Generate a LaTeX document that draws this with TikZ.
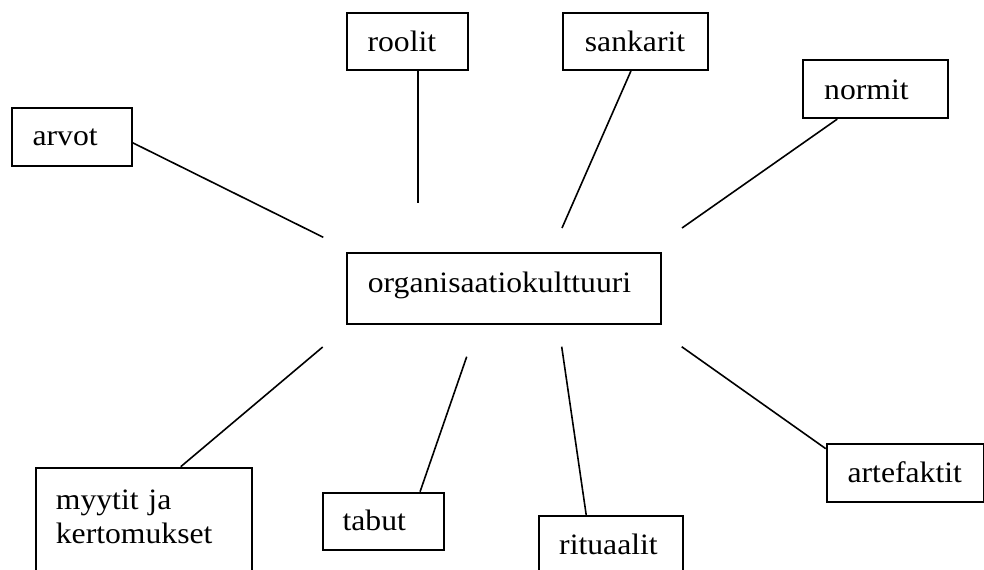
\documentclass[tikz,border=0pt]{standalone}
\usepackage{fontspec}
\setmainfont[FakeStretch=1.07]{Liberation Serif}
\usetikzlibrary{calc}
\tikzset{
  box/.style={draw, line width=0.9pt, anchor=north west, inner ysep=0pt, align=left,
    font=\fontsize{14.8}{17}\selectfont,
    execute at begin node={\hyphenpenalty=10000\relax}},
  conn/.style={line width=0.8pt}
}
\begin{document}
\begin{tikzpicture}[x=0.5pt,y=-0.5pt]
\useasboundingbox (0,0) rectangle (984,569);
\clip (0,0) rectangle (984,569);
\node[box, inner xsep=10.5pt, text width=39.15pt, text height=18.85pt, text depth=9.85pt] (arvot) at (10.7,107.3) {arvot};
\node[box, inner xsep=10.5pt, text width=39.5pt, text height=19.65pt, text depth=9pt] (roolit) at (345.7,11.7) {roolit};
\node[box, inner xsep=11pt, text width=50.5pt, text height=19.65pt, text depth=9pt] (sankarit) at (562,11.7) {sankarit};
\node[box, inner xsep=10.65pt, text width=51.2pt, text height=19.5pt, text depth=9.5pt] (normit) at (802,59.3) {normit};
\node[box, inner xsep=10.5pt, text width=136pt, text height=20.15pt, text depth=15.65pt] (org) at (346,251.7) {organisaatiokulttuuri};
\node[box, inner xsep=10pt, text width=87.85pt, text height=20.8pt, text depth=46.5pt] (myytit) at (35,466.7) {myytit ja\\kertomukset};
\node[box, inner xsep=9.7pt, text width=40.8pt, text height=18.8pt, text depth=10pt] (tabut) at (322.3,491.7) {tabut};
\node[box, inner xsep=10pt, text width=51.7pt, text height=19.5pt, text depth=22.65pt] (rituaalit) at (538.3,515) {rituaalit};
\node[box, inner xsep=10.5pt, text width=57.5pt, text height=19.2pt, text depth=9.5pt] (artefaktit) at (825.7,443.3) {artefaktit};

\coordinate (ac) at (323.3,237.3);
\coordinate (rc) at (418,203);
\coordinate (sc) at (562,228);
\coordinate (nc) at (682,228);
\coordinate (mc) at (322.7,347);
\coordinate (tc) at (466.7,356.7);
\coordinate (ric) at (561.7,346.7);
\coordinate (afc) at (681.7,346.7);

\draw[conn] ($(arvot.north east)!0.6!(arvot.south east)$) -- (ac);
\draw[conn] (rc |- roolit.south) -- (rc);
\draw[conn] ($(sankarit.south west)!0.47!(sankarit.south east)$) -- (sc);
\draw[conn] ($(normit.south west)!0.24!(normit.south east)$) -- (nc);
\draw[conn] ($(myytit.north west)!0.67!(myytit.north east)$) -- (mc);
\draw[conn] ($(tabut.north west)!0.80!(tabut.north east)$) -- (tc);
\draw[conn] ($(rituaalit.north west)!0.33!(rituaalit.north east)$) -- (ric);
\draw[conn] ($(artefaktit.north west)!0.09!(artefaktit.south west)$) -- (afc);
\end{tikzpicture}
\end{document}
